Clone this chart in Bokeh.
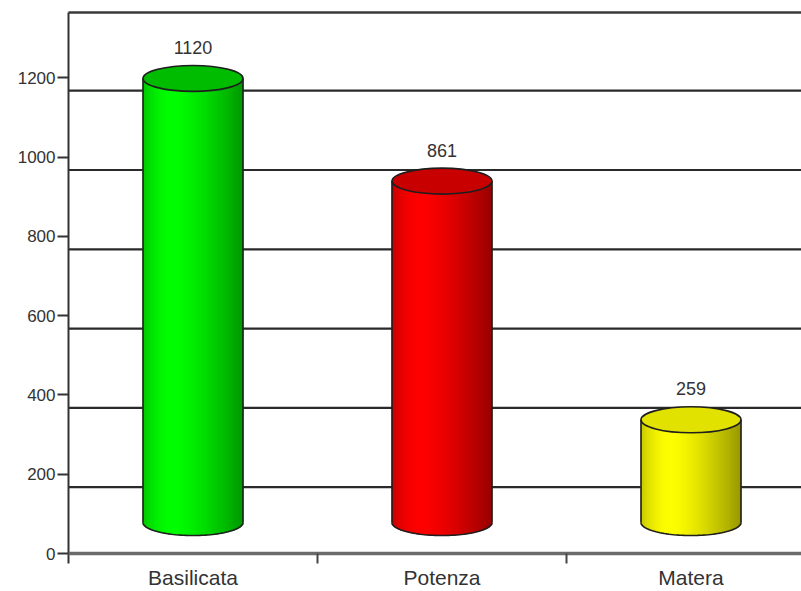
import numpy as np
from bokeh.plotting import figure
from bokeh.models import Range1d, FixedTicker
from bokeh.core.properties import value
from bokeh.embed import file_html
from bokeh.resources import INLINE

# ---- data ----
categories = ["Basilicata", "Potenza", "Matera"]
values = [1120, 861, 259]
y_ticks = [0, 200, 400, 600, 800, 1000, 1200]
body_rgb = [(0, 255, 0), (255, 0, 0), (255, 255, 0)]
top_colors = ["#00bc00", "#c80000", "#e2e200"]

# ---- layout constants (pixels) ----
W, H = 801, 591
K = 0.3965            # px per value unit
PX_CAT = 249.0        # px per category
LEFT, TOP = 60, 6     # frame left / top in px
X0_PX, Y0_PX = 68, 553  # pixel of x=0 / y=0
TOPLINE_PX = 12
GRID_SHIFT = 13       # gridlines drawn below tick level (3D back wall)
BASE_PX = 31          # cylinder base above zero line
HALF_W_PX = 50
HALF_H_PX = 13

x_start = -(X0_PX - LEFT) / PX_CAT
x_end = (W - X0_PX) / PX_CAT
y_start = -(H - Y0_PX) / K
y_end = y_start + (H - TOP) / K

p = figure(width=W, height=H, output_backend="svg", toolbar_location=None,
           x_range=Range1d(x_start, x_end), y_range=Range1d(y_start, y_end),
           min_border_left=LEFT, min_border_top=TOP, min_border_right=0,
           min_border_bottom=0, background_fill_color="white",
           border_fill_color="white")
p.outline_line_color = None
p.xgrid.visible = False
p.ygrid.visible = False
p.xaxis.visible = False

ya = p.yaxis[0]
ya.ticker = FixedTicker(ticks=y_ticks)
ya.axis_line_color = None
ya.major_tick_in = X0_PX - LEFT
ya.major_tick_out = 3
ya.minor_tick_line_color = None
ya.major_tick_line_color = "#333333"
ya.major_tick_line_width = 2
ya.major_label_standoff = 2
ya.major_label_text_font = "Liberation Sans"
ya.major_label_text_font_size = "17px"
ya.major_label_text_color = "#333333"

ncat = len(categories)
# gridlines on back wall
grid_y = [t - GRID_SHIFT / K for t in y_ticks if t > 0]
p.segment(x0=[0] * len(grid_y), x1=[x_end] * len(grid_y), y0=grid_y, y1=grid_y,
          line_color="#2a2a2a", line_width=2.2)
# top border
top_val = (Y0_PX - TOPLINE_PX) / K
p.segment(x0=[0], x1=[x_end], y0=[top_val], y1=[top_val], line_color="#3a3a3a", line_width=2.5)
# left axis line
p.segment(x0=[0], x1=[0], y0=[-10 / K], y1=[top_val], line_color="#333333", line_width=2)
# zero line
p.segment(x0=[0], x1=[x_end], y0=[0], y1=[0], line_color="#6a6a6a", line_width=3.5)
# category boundary ticks
bx = list(range(1, ncat))
p.segment(x0=bx, x1=bx, y0=[0] * len(bx), y1=[-10 / K] * len(bx),
          line_color="#444444", line_width=2)

# cylinders
a = HALF_W_PX / PX_CAT
b = HALF_H_PX / K
base = BASE_PX / K
N = 50
edges = np.linspace(-a, a, N + 1)
tc = (np.arange(N) + 0.5) / N
def shade(t):
    return np.where(t < 0.3, 1 - 0.22 * ((0.3 - t) / 0.3) ** 2,
                    1 - 0.40 * ((t - 0.3) / 0.7) ** 1.4)
f = shade(tc)
xc_rel = (edges[:-1] + edges[1:]) / 2
bottoms_rel = -b * np.sqrt(np.clip(1 - (xc_rel / a) ** 2, 0, 1))
outline = "#1e1e1e"
for i, (cat, v) in enumerate(zip(categories, values)):
    cx = i + 0.5
    r, g, bl = body_rgb[i]
    cols = ["#%02x%02x%02x" % (int(r * s), int(g * s), int(bl * s)) for s in f]
    top = base + v
    p.quad(left=cx + edges[:-1], right=cx + edges[1:],
           bottom=base + bottoms_rel, top=[top] * N,
           fill_color=cols, line_color=cols, line_width=0.6)
    th = np.linspace(0, np.pi, 60)
    p.line(cx + a * np.cos(th), base - b * np.sin(th), line_color=outline, line_width=1.6)
    p.segment(x0=[cx - a, cx + a], x1=[cx - a, cx + a], y0=[base, base], y1=[top, top],
              line_color=outline, line_width=1.6)
    p.ellipse(x=[cx], y=[top], width=[2 * a], height=[2 * b],
              fill_color=top_colors[i], line_color=outline, line_width=1.6)
    p.text(x=[cx], y=[top + 31 / K], text=[str(v)], text_align="center",
           text_baseline="middle", text_font=value("Liberation Sans"),
           text_font_size="18px", text_color="#333333")
    p.text(x=[cx], y=[-(565 - Y0_PX) / K], text=[cat], text_align="center",
           text_baseline="top", text_font=value("Liberation Sans"),
           text_font_size="21px", text_color="#333333")

open("out.html", "w").write(file_html(p, INLINE))
